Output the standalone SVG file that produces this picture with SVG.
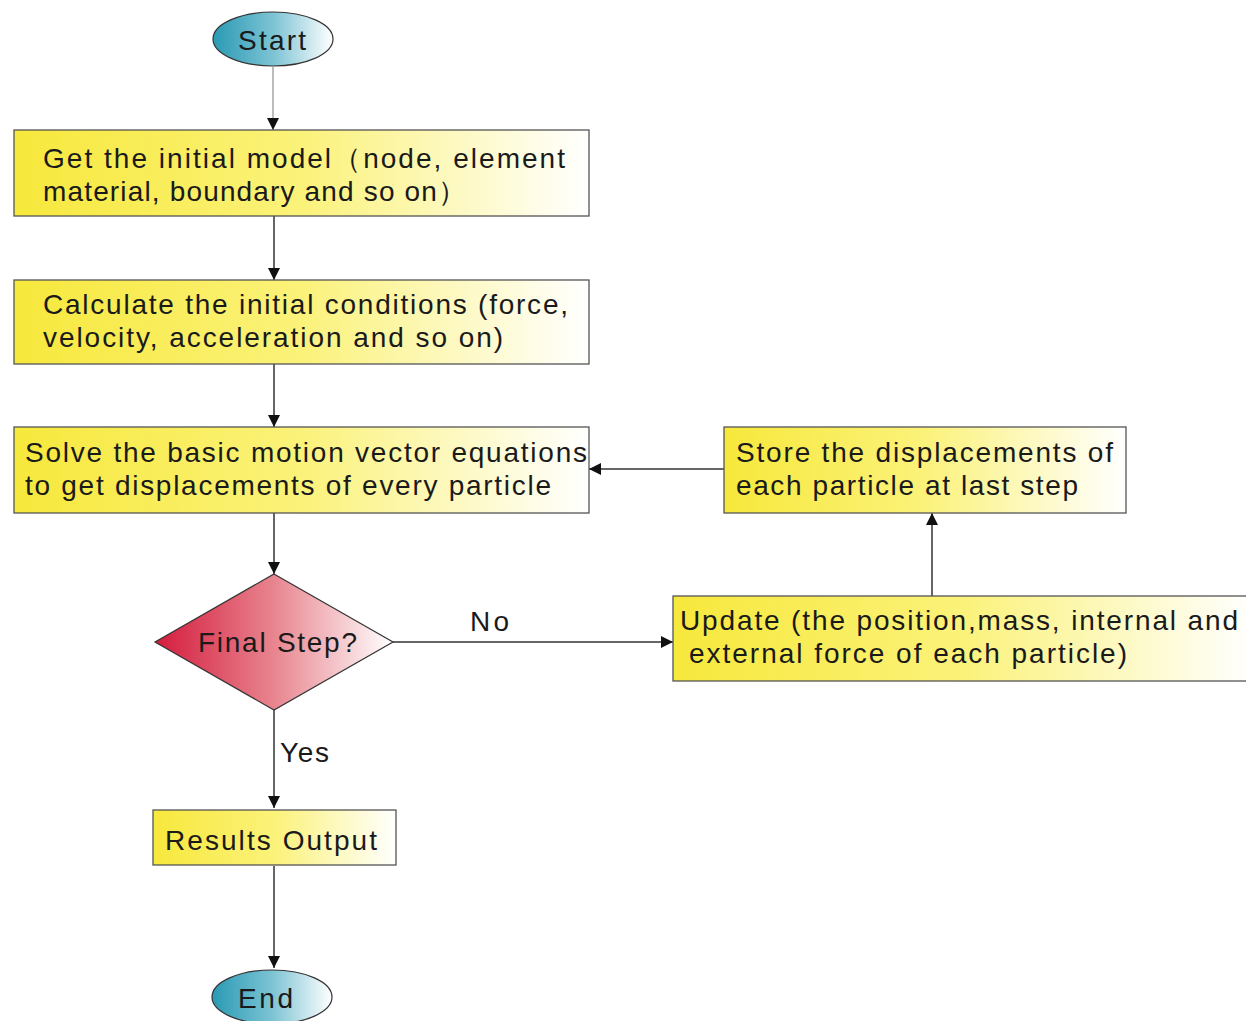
<svg xmlns="http://www.w3.org/2000/svg" width="1246" height="1021" viewBox="0 0 1246 1021">
<style>
text{font-family:"Liberation Sans",Arial,sans-serif;font-size:28px;fill:#1a1a1a}
.box{fill:url(#gy);stroke:#555;stroke-width:1.3}
.ell{fill:url(#gb);stroke:#333;stroke-width:1.2}
.dia{fill:url(#gr);stroke:#333;stroke-width:1.2}
.c{stroke:#333;stroke-width:1.5;fill:none;marker-end:url(#ah)}
.cg{stroke:#999;stroke-width:1.3;fill:none;marker-end:url(#ah)}
</style>
<defs>
<linearGradient id="gy" x1="0" y1="0" x2="1" y2="0"><stop offset="0" stop-color="#f7e83c"/><stop offset="0.5" stop-color="#fbf27a"/><stop offset="1" stop-color="#ffffff"/></linearGradient>
<linearGradient id="gb" x1="0" y1="0" x2="1" y2="0"><stop offset="0" stop-color="#2a9ab4"/><stop offset="0.5" stop-color="#7cc3d4"/><stop offset="1" stop-color="#ffffff"/></linearGradient>
<linearGradient id="gr" x1="0" y1="0" x2="1" y2="0"><stop offset="0" stop-color="#d41c3e"/><stop offset="0.5" stop-color="#e8858f"/><stop offset="1" stop-color="#ffffff"/></linearGradient>
<marker id="ah" viewBox="0 0 10 10" refX="10" refY="5" markerWidth="12" markerHeight="12" markerUnits="userSpaceOnUse" orient="auto"><path d="M0,0L10,5L0,10z" fill="#111"/></marker>
</defs>
<g id="connectors">
<path class="cg" d="M273,67V130"/>
<path class="c" d="M274,216V280"/>
<path class="c" d="M274,364V427"/>
<path class="c" d="M274,513V574"/>
<path class="c" d="M393,642H673"/>
<text x="470" y="631" textLength="39" lengthAdjust="spacing">No</text>
<path class="c" d="M274,710V808"/>
<text x="280" y="762" textLength="49" lengthAdjust="spacing">Yes</text>
<path class="c" d="M274,866V968"/>
<path class="c" d="M932,596V513"/>
<path class="c" d="M724,469H589"/>
</g>
<g id="start"><ellipse class="ell" cx="273" cy="39" rx="60" ry="27"/><text x="238" y="50" textLength="68" lengthAdjust="spacing">Start</text></g>
<g id="model"><rect class="box" x="14" y="130" width="575" height="86"/><text x="43" y="168" textLength="522" lengthAdjust="spacing">Get the initial  model（node, element</text><text x="43" y="201" textLength="423" lengthAdjust="spacing">material, boundary and so on）</text></g>
<g id="init"><rect class="box" x="14" y="280" width="575" height="84"/><text x="43" y="314" textLength="525" lengthAdjust="spacing">Calculate the initial conditions (force,</text><text x="43" y="347" textLength="460" lengthAdjust="spacing">velocity,  acceleration and so on)</text></g>
<g id="solve"><rect class="box" x="14" y="427" width="575" height="86"/><text x="25" y="462" textLength="562" lengthAdjust="spacing">Solve the basic motion vector equations</text><text x="25" y="495" textLength="526" lengthAdjust="spacing">to get displacements of every particle</text></g>
<g id="store"><rect class="box" x="724" y="427" width="402" height="86"/><text x="736" y="462" textLength="377" lengthAdjust="spacing">Store the displacements of</text><text x="736" y="495" textLength="342" lengthAdjust="spacing">each particle at last step</text></g>
<g id="decision"><path class="dia" d="M274,574L393,642L274,710L155,642z"/><text x="198" y="652" textLength="159" lengthAdjust="spacing">Final Step?</text></g>
<g id="update"><rect class="box" x="673" y="596" width="580" height="85"/><text x="680" y="630" textLength="558" lengthAdjust="spacing">Update (the position,mass, internal and</text><text x="689" y="663" textLength="438" lengthAdjust="spacing">external force  of each particle)</text></g>
<g id="results"><rect class="box" x="153" y="810" width="243" height="55"/><text x="165" y="850" textLength="212" lengthAdjust="spacing">Results Output</text></g>
<g id="end"><ellipse class="ell" cx="272" cy="997" rx="60" ry="27"/><text x="238" y="1008" textLength="55" lengthAdjust="spacing">End</text></g>
</svg>
